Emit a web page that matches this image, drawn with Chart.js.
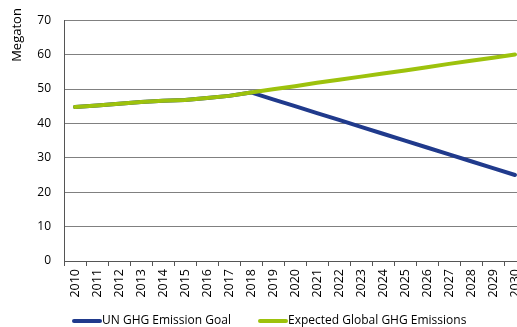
<!DOCTYPE html>
<html>
<head>
<meta charset="utf-8">
<script src="https://cdn.jsdelivr.net/npm/chart.js@4/dist/chart.umd.min.js"></script>
<style>
  html, body { margin: 0; padding: 0; background: #fff; }
  #wrap { width: 517px; height: 327px; overflow: hidden; position: relative; }
  canvas { display: block; }
</style>
</head>
<body>
<div id="wrap"><canvas id="c" width="533" height="327"></canvas></div>
<script>
const years = ['2010','2011','2012','2013','2014','2015','2016','2017','2018','2019','2020',
               '2021','2022','2023','2024','2025','2026','2027','2028','2029','2030'];
const unGoal = [44.8, 45.2, 45.7, 46.2, 46.6, 46.8, 47.4, 48.0, 49.0, 47, 45,
                43, 41, 39, 37, 35, 33, 31, 29, 27, 25];
const expected = [44.8, 45.2, 45.7, 46.2, 46.6, 46.8, 47.4, 48.0, 49.0, 49.9, 50.8,
                  51.8, 52.7, 53.6, 54.5, 55.4, 56.3, 57.3, 58.2, 59.1, 60.0];
const yTicks = [0, 10, 20, 30, 40, 50, 60, 70];
const seriesNames = ['UN GHG Emission Goal', 'Expected Global GHG Emissions'];
const axisTitle = 'Megaton';

const FONT = '"Open Sans", Lato, sans-serif';
const BLUE = '#203A8C';
const GREEN = '#9DC20C';

// Y-axis title and legend drawn onto the canvas after the chart
const extras = {
  id: 'extras',
  afterDraw(chart) {
    const ctx = chart.ctx;
    ctx.save();
    ctx.fillStyle = '#000';
    ctx.font = '13px ' + FONT;
    ctx.translate(17, 35);
    ctx.rotate(-Math.PI / 2);
    ctx.textAlign = 'center';
    ctx.textBaseline = 'middle';
    ctx.fillText(axisTitle, 0, 0);
    ctx.restore();

    const items = [
      { x: 72, color: chart.data.datasets[0].borderColor, text: chart.data.datasets[0].label },
      { x: 258, color: chart.data.datasets[1].borderColor, text: chart.data.datasets[1].label }
    ];
    const y = 321;
    ctx.save();
    ctx.font = '12px ' + FONT;
    ctx.textBaseline = 'middle';
    ctx.fillStyle = '#000';
    items.forEach(it => {
      ctx.strokeStyle = it.color;
      ctx.lineWidth = 4;
      ctx.lineCap = 'round';
      ctx.beginPath();
      ctx.moveTo(it.x + 2, y);
      ctx.lineTo(it.x + 28, y);
      ctx.stroke();
      ctx.fillText(it.text, it.x + 30, y);
    });
    ctx.restore();
  }
};

new Chart(document.getElementById('c'), {
  type: 'line',
  data: {
    labels: years,
    datasets: [
      { label: seriesNames[0], data: unGoal, borderColor: BLUE, backgroundColor: BLUE,
        borderWidth: 4, pointRadius: 0, tension: 0, order: 1,
        borderCapStyle: 'round', borderJoinStyle: 'round' },
      { label: seriesNames[1], data: expected, borderColor: GREEN, backgroundColor: GREEN,
        borderWidth: 4, pointRadius: 0, tension: 0, order: 0,
        borderCapStyle: 'round', borderJoinStyle: 'round' }
    ]
  },
  options: {
    responsive: false,
    animation: false,
    events: [],
    layout: { padding: { top: 19, bottom: 0, left: 0, right: 0 } },
    plugins: { legend: { display: false }, tooltip: { enabled: false } },
    scales: {
      x: {
        offset: true,
        grid: { offset: true, drawOnChartArea: false, drawTicks: true, tickLength: 5, color: '#555', lineWidth: 1 },
        border: { color: '#555', width: 1 },
        ticks: { autoSkip: false, minRotation: 90, maxRotation: 90, padding: 3,
                 color: '#000', font: { family: FONT, size: 12.5 } },
        afterFit(scale) { scale.height = 66; }
      },
      y: {
        min: 0, max: 70,
        afterBuildTicks(scale) { scale.ticks = yTicks.map(v => ({ value: v })); },
        grid: { color: '#808080', lineWidth: 1, drawTicks: false },
        border: { color: '#555', width: 1 },
        ticks: { padding: 13, color: '#000', font: { family: FONT, size: 12 } },
        afterFit(scale) { scale.width = 64; }
      }
    }
  },
  plugins: [extras]
});
</script>
</body>
</html>
